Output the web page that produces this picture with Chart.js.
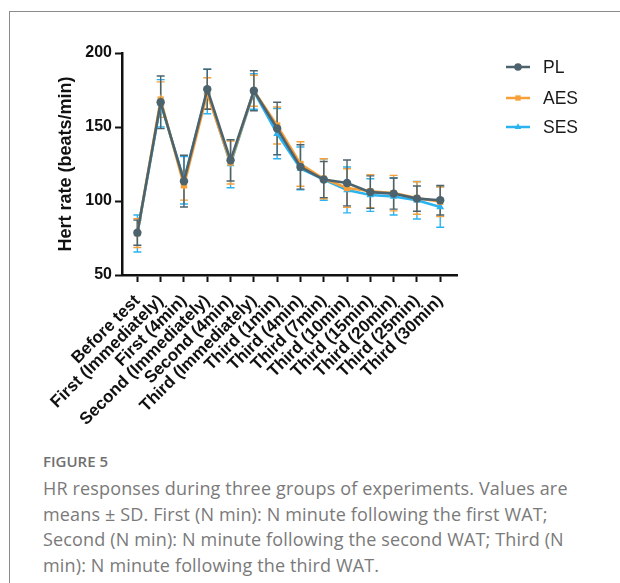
<!DOCTYPE html>
<html>
<head>
<meta charset="utf-8">
<script src="https://cdn.jsdelivr.net/npm/chart.js@4.4.1/dist/chart.umd.min.js"></script>
<style>
  html, body { margin: 0; padding: 0; background: #fff; overflow: hidden; }
  body { width: 620px; height: 583px; position: relative; }
  .frame { position: absolute; left: 9px; top: 11px; width: 700px; height: 700px;
           border-left: 1px solid #8c8c8c; border-top: 1px solid #8c8c8c; }
  #hr { position: absolute; left: 0; top: 0; }
  .fig-no { position: absolute; left: 43px; top: 451px; font-family: "Open Sans", sans-serif;
            font-size: 15px; line-height: 20px; font-weight: 600; color: #707070; }
  .caption { position: absolute; left: 43px; top: 476px; font-family: "Open Sans", sans-serif;
             font-size: 18px; line-height: 25.7px; letter-spacing: 0.15px; color: #7a7a7a; white-space: nowrap; }
</style>
</head>
<body>
<div class="frame"></div>
<canvas id="hr" width="620" height="440"></canvas>
<div class="fig-no">FIGURE 5</div>
<div class="caption">HR responses during three groups of experiments. Values are<br>means ± SD. First (N min): N minute following the first WAT;<br>Second (N min): N minute following the second WAT; Third (N<br>min): N minute following the third WAT.</div>

<script>
var categories = ['Before test', 'First (Immediately)', 'First (4min)', 'Second (Immediately)',
    'Second (4min)', 'Third (Immediately)', 'Third (1min)', 'Third (4min)', 'Third (7min)',
    'Third (10min)', 'Third (15min)', 'Third (20min)', 'Third (25min)', 'Third (30min)'];

// means and SDs per group (beats/min)
var plMean  = [78.6, 166.7, 113.4, 175.5, 127.5, 174.5, 149.0, 123.0, 114.5, 112.2, 106.0, 105.0, 101.6, 100.5];
var plSd    = [8.5, 17.8, 17.5, 13.5, 14.0, 13.5, 17.7, 15.0, 12.2, 15.5, 11.0, 10.5, 8.5, 10.0];
var aesMean = [78.3, 168.5, 110.6, 172.8, 126.0, 174.5, 151.0, 125.0, 115.0, 108.8, 106.6, 105.3, 102.0, 99.5];
var aesSd   = [9.7, 12.0, 10.0, 10.5, 14.5, 10.5, 12.5, 15.0, 13.5, 13.0, 11.2, 12.0, 11.0, 10.0];
var sesMean = [78.0, 166.0, 114.0, 174.0, 125.0, 174.0, 145.5, 122.0, 114.5, 107.5, 104.0, 103.0, 100.5, 96.0];
var sesSd   = [12.5, 16.0, 16.0, 15.0, 16.0, 12.0, 17.0, 14.5, 14.0, 15.5, 11.0, 12.5, 12.7, 13.7];

var yTicks = [50, 100, 150, 200];

var PL_COLOR = '#4c636e';
var AES_COLOR = '#f7a03a';
var SES_COLOR = '#2bb3f1';

var axisFont = "'Liberation Sans', Arial, sans-serif";

function points(arr) {
    return arr.map(function (v, i) { return { x: i, y: v }; });
}

function series(label, mean, sd, color, style, radius) {
    return {
        label: label,
        data: points(mean),
        sd: sd,
        borderColor: color,
        backgroundColor: color,
        borderWidth: 2.6,
        pointStyle: style,
        pointRadius: radius,
        pointBorderWidth: 0,
        pointBackgroundColor: color,
        tension: 0
    };
}

// vertical SD whiskers with caps, drawn under the lines
var errorBars = {
    id: 'errorBars',
    beforeDatasetsDraw: function (chart) {
        var ctx = chart.ctx, x = chart.scales.x, y = chart.scales.y;
        ctx.save();
        ctx.lineWidth = 1.4;
        [2, 1, 0].forEach(function (di) {
            var ds = chart.data.datasets[di];
            ctx.strokeStyle = ds.borderColor;
            ds.data.forEach(function (p, j) {
                var px = x.getPixelForValue(p.x);
                var top = y.getPixelForValue(p.y + ds.sd[j]);
                var bot = y.getPixelForValue(p.y - ds.sd[j]);
                ctx.beginPath();
                ctx.moveTo(px, top); ctx.lineTo(px, bot);
                ctx.moveTo(px - 4, top); ctx.lineTo(px + 4, top);
                ctx.moveTo(px - 4, bot); ctx.lineTo(px + 4, bot);
                ctx.stroke();
            });
        });
        ctx.restore();
    }
};

// legend on the right: short line with the marker, then the name
var sideLegend = {
    id: 'sideLegend',
    afterDraw: function (chart) {
        var ctx = chart.ctx;
        var rows = [67, 98, 127];
        ctx.save();
        chart.data.datasets.forEach(function (ds, i) {
            var cy = rows[i];
            ctx.strokeStyle = ds.borderColor;
            ctx.fillStyle = ds.borderColor;
            ctx.lineWidth = 2.5;
            ctx.beginPath();
            ctx.moveTo(506, cy); ctx.lineTo(530, cy);
            ctx.stroke();
            Chart.helpers.drawPoint(ctx, { pointStyle: ds.pointStyle, radius: 3.8, borderWidth: 0, rotation: 0 }, 518, cy);
            ctx.fillStyle = '#1a1a1a';
            ctx.font = "17.5px " + axisFont;
            ctx.textBaseline = 'middle';
            ctx.fillText(ds.label, 543, cy + 1);
        });
        ctx.restore();
    }
};

var hr = document.getElementById('hr').getContext('2d');
var hrChart = new Chart(hr, {
    type: 'line',
    data: {
        datasets: [
            series('PL', plMean, plSd, PL_COLOR, 'circle', 4.2),
            series('AES', aesMean, aesSd, AES_COLOR, 'rect', 4.5),
            series('SES', sesMean, sesSd, SES_COLOR, 'triangle', 4.5)
        ]
    },
    options: {
        responsive: false,
        animation: false,
        layout: { padding: { top: 53, right: 163, left: 50, bottom: 0 } },
        plugins: {
            legend: { display: false },
            tooltip: { enabled: false }
        },
        scales: {
            x: {
                type: 'linear',
                min: -0.66,
                max: 13.72,
                afterBuildTicks: function (s) {
                    s.ticks = categories.map(function (c, i) { return { value: i }; });
                },
                afterFit: function (s) { s.height = 165; },
                ticks: {
                    autoSkip: false,
                    minRotation: 45,
                    maxRotation: 45,
                    padding: 9,
                    color: '#111',
                    font: { family: axisFont, size: 17, weight: 'bold' },
                    callback: function (v) { return categories[v]; }
                },
                grid: { drawOnChartArea: false, tickLength: 7, tickColor: '#111', tickWidth: 2 },
                border: { color: '#111', width: 2.5 }
            },
            y: {
                min: 50,
                max: 200,
                afterBuildTicks: function (s) {
                    s.ticks = yTicks.map(function (v) { return { value: v }; });
                },
                afterFit: function (s) { s.width = 72; },
                ticks: {
                    padding: 3,
                    color: '#111',
                    font: { family: axisFont, size: 16, weight: 'bold' }
                },
                grid: { drawOnChartArea: false, tickLength: 7, tickColor: '#111', tickWidth: 2 },
                border: { color: '#111', width: 2.5 },
                title: {
                    display: true,
                    text: 'Hert rate (beats/min)',
                    color: '#111',
                    padding: { top: 5, bottom: 0 },
                    font: { family: axisFont, size: 18, weight: 'bold' }
                }
            }
        }
    },
    plugins: [errorBars, sideLegend]
});
</script>
</body>
</html>
